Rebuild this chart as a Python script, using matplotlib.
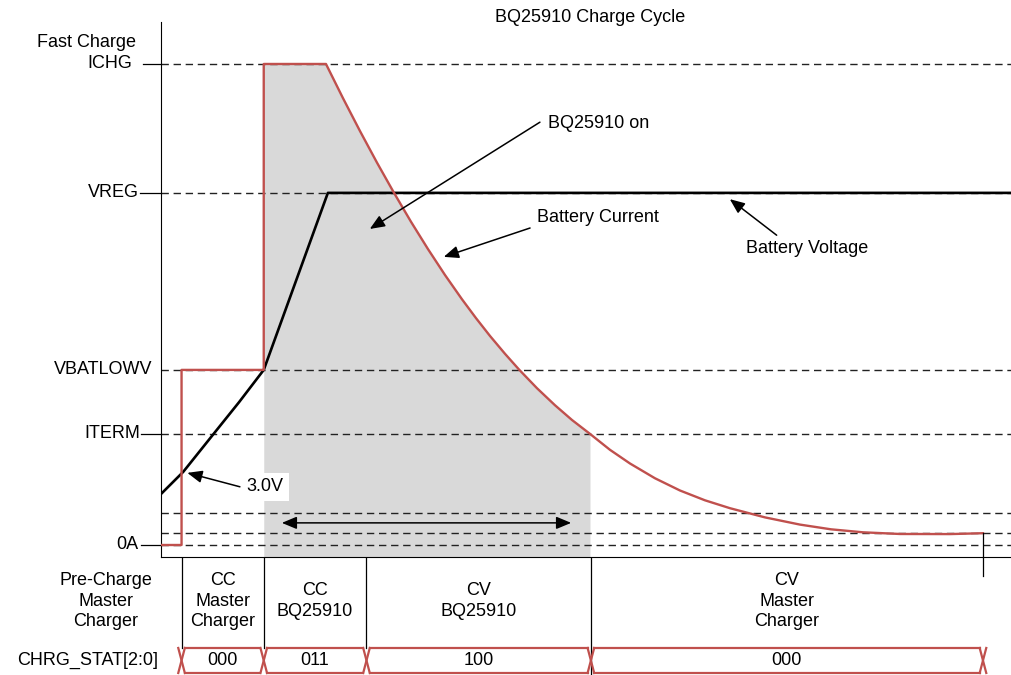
import matplotlib.pyplot as plt
import numpy as np

plt.rcParams['font.family'] = ['Liberation Sans', 'DejaVu Sans']
plt.rcParams['font.size'] = 13

# levels on the vertical axis (0A = 0, ICHG = 100)
level_names = ['ICHG', 'VREG', 'VBATLOWV', 'ITERM', '0A']
level_values = [100, 73.2, 36.4, 23.1, 0]
extra_levels = [6.65, 2.5]

# battery current (red)
t_cur = [0, 2.5, 2.5, 12.5, 12.5, 20.07, 22.14, 24.21, 26.28, 28.35, 30.41, 32.48,
         34.55, 36.62, 38.32, 40.02, 41.85, 43.55, 45.74, 47.93, 50.0, 52.19,
         54.62, 57.06, 60.1, 63.14, 66.18, 69.22, 73.48, 77.74, 81.51, 85.4,
         89.9, 95.99, 100]
i_cur = [0, 0, 36.4, 36.4, 100, 100, 92.89, 86.05, 79.48, 73.2, 67.21, 61.52,
         56.13, 51.08, 47.17, 43.47, 39.75, 36.49, 32.6, 29.06, 25.99, 23.1,
         19.79, 16.94, 13.87, 11.33, 9.29, 7.65, 5.74, 4.24, 3.26, 2.64,
         2.29, 2.27, 2.45]

# battery voltage (black)
t_volt = [0, 2.7, 6.4, 9.5, 12.5, 20.3, 103.4]
v_volt = [10.6, 15.2, 23.1, 29.7, 36.4, 73.2, 73.2]

# charge phases
phase_edges = [2.5, 12.5, 25.0, 52.3, 100.0]
phase_labels = ['CC\nMaster\nCharger', 'CC\nBQ25910', 'CV\nBQ25910', 'CV\nMaster\nCharger']
status_codes = ['000', '011', '100', '000']

red = '#c0504d'
dash = (0, (5.3, 3.4))
x_max = 103.41
y_min, y_max = -2.495, 113.3

fig = plt.figure(figsize=(10.11, 6.75), dpi=100)
ax = fig.add_axes([161/1011, 118/675, 850/1011, 557/675])
tb = fig.add_axes([161/1011, 0, 850/1011, 118/675])

ax.set_xlim(0, x_max)
ax.set_ylim(y_min, y_max)
tb.set_xlim(0, x_max)
tb.set_ylim(0, 1)
tb.axis('off')

for s in ['top', 'right']:
    ax.spines[s].set_visible(False)
ax.spines['left'].set_bounds(y_min, 108.7)
ax.spines['left'].set_linewidth(0.8)
ax.spines['bottom'].set_linewidth(0.8)
ax.set_xticks([])
ax.set_yticks([])

# shaded region handled by BQ25910
t_arr = np.array(t_cur)
i_arr = np.array(i_cur)
i0 = 4
i1 = int(np.where(np.isclose(i_arr, level_values[3]))[0][0]) + 1
ax.fill_between(t_arr[i0:i1], i_arr[i0:i1], y_min, color='#d9d9d9', lw=0, zorder=1)

# dashed level lines and labels
tick_len = {'ICHG': 2.2, 'VREG': 2.55, 'VBATLOWV': 0, 'ITERM': 2.45, '0A': 2.45}
lab_x = {'ICHG': -3.5, 'VREG': -2.7, 'VBATLOWV': -1.0, 'ITERM': -2.55, '0A': -2.8}
for name, lv in zip(level_names, level_values):
    ax.plot([0, x_max], [lv, lv], ls=dash, color='#222222', lw=1.0, zorder=2)
    if tick_len[name]:
        ax.plot([-tick_len[name], 0], [lv, lv], color='black', lw=0.9, clip_on=False)
    ax.text(lab_x[name], lv, name, ha='right', va='center')
for lv in extra_levels:
    ax.plot([0, x_max], [lv, lv], ls=dash, color='#222222', lw=1.0, zorder=2)
ax.text(-3.0, 104.4, 'Fast Charge', ha='right', va='center')

ax.plot(t_volt, v_volt, color='black', lw=1.9, zorder=3)
ax.plot(t_cur, i_cur, color=red, lw=1.7, zorder=4)

# end tick
ax.plot([100, 100], [2.5, -6.4], color='black', lw=0.9, clip_on=False, zorder=5)

ax.text(52.2, 109.6, 'BQ25910 Charge Cycle', ha='center', va='center')

arw = dict(arrowstyle='-|>,head_length=0.6,head_width=0.25', mutation_scale=15,
           color='black', lw=1.1, shrinkA=0, shrinkB=0)
ax.annotate('', xy=(25.4, 65.7), xytext=(46.1, 87.9), arrowprops=arw, zorder=6)
ax.text(47.1, 87.7, 'BQ25910 on', ha='left', va='center')
ax.annotate('', xy=(34.4, 59.9), xytext=(44.9, 65.9), arrowprops=arw, zorder=6)
ax.text(45.7, 68.0, 'Battery Current', ha='left', va='center')
ax.annotate('', xy=(69.2, 71.9), xytext=(74.9, 64.4), arrowprops=arw, zorder=6)
ax.text(71.2, 61.7, 'Battery Voltage', ha='left', va='center')
ax.text(12.6, 12.1, '3.0V', ha='center', va='center', zorder=5,
        bbox=dict(facecolor='white', edgecolor='none', pad=4))
ax.annotate('', xy=(3.2, 15.0), xytext=(9.6, 12.1), arrowprops=arw, zorder=6)
arw2 = dict(arw, arrowstyle='<|-|>,head_length=0.6,head_width=0.25')
ax.annotate('', xy=(49.9, 4.6), xytext=(14.7, 4.6), arrowprops=arw2, zorder=6)

# phase table
st_top, st_bot = 0.229, 0.017
st_mid = (st_top + st_bot) / 2
for k, e in enumerate(phase_edges[:-1]):
    y_end = 0 if k == 3 else st_top
    tb.plot([e, e], [1, y_end], color='black', lw=0.9)

tb.text(-6.7, 0.627, 'Pre-Charge\nMaster\nCharger', ha='center', va='center',
        linespacing=1.25)
tb.text(-0.3, st_mid, 'CHRG_STAT[2:0]', ha='right', va='center')
for a, b, lab, code in zip(phase_edges[:-1], phase_edges[1:], phase_labels, status_codes):
    tb.text((a + b) / 2, 0.627, lab, ha='center', va='center', linespacing=1.25)
    tb.text((a + b) / 2, st_mid, code, ha='center', va='center')

d = 0.4
for e in phase_edges:
    tb.plot([e - d, e + d], [st_top, st_bot], color=red, lw=1.6)
    tb.plot([e - d, e + d], [st_bot, st_top], color=red, lw=1.6)
for a, b in zip(phase_edges[:-1], phase_edges[1:]):
    tb.plot([a + d, b - d], [st_top, st_top], color=red, lw=1.6)
    tb.plot([a + d, b - d], [st_bot, st_bot], color=red, lw=1.6)

fig.savefig('out.png', dpi=100)
